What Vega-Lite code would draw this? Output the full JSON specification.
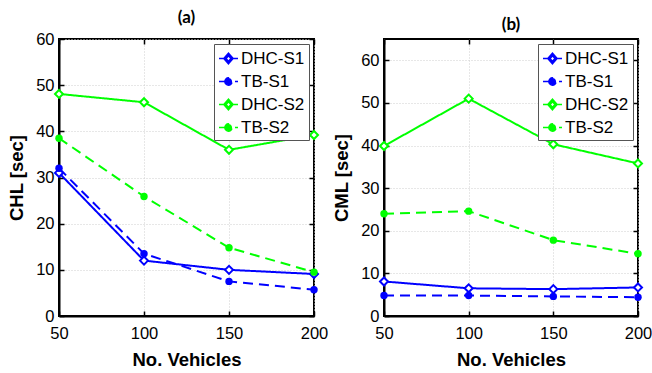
{
  "$schema": "https://vega.github.io/schema/vega-lite/v6.json",
  "padding": {"left": 6, "top": 8, "right": 0, "bottom": 0},
  "background": "white",
  "datasets": {
    "a": [
      {"n": 50, "series": "DHC-S1", "v": 31},
      {"n": 100, "series": "DHC-S1", "v": 12},
      {"n": 150, "series": "DHC-S1", "v": 10},
      {"n": 200, "series": "DHC-S1", "v": 9.1},
      {"n": 50, "series": "TB-S1", "v": 32},
      {"n": 100, "series": "TB-S1", "v": 13.5},
      {"n": 150, "series": "TB-S1", "v": 7.5},
      {"n": 200, "series": "TB-S1", "v": 5.7},
      {"n": 50, "series": "DHC-S2", "v": 48.1},
      {"n": 100, "series": "DHC-S2", "v": 46.3},
      {"n": 150, "series": "DHC-S2", "v": 36},
      {"n": 200, "series": "DHC-S2", "v": 39.2},
      {"n": 50, "series": "TB-S2", "v": 38.5},
      {"n": 100, "series": "TB-S2", "v": 25.9},
      {"n": 150, "series": "TB-S2", "v": 14.8},
      {"n": 200, "series": "TB-S2", "v": 9.5}
    ],
    "b": [
      {"n": 50, "series": "DHC-S1", "v": 8.1},
      {"n": 100, "series": "DHC-S1", "v": 6.5},
      {"n": 150, "series": "DHC-S1", "v": 6.3},
      {"n": 200, "series": "DHC-S1", "v": 6.7},
      {"n": 50, "series": "TB-S1", "v": 4.8},
      {"n": 100, "series": "TB-S1", "v": 4.8},
      {"n": 150, "series": "TB-S1", "v": 4.6},
      {"n": 200, "series": "TB-S1", "v": 4.4},
      {"n": 50, "series": "DHC-S2", "v": 39.9},
      {"n": 100, "series": "DHC-S2", "v": 51},
      {"n": 150, "series": "DHC-S2", "v": 40.3},
      {"n": 200, "series": "DHC-S2", "v": 35.8},
      {"n": 50, "series": "TB-S2", "v": 24},
      {"n": 100, "series": "TB-S2", "v": 24.6},
      {"n": 150, "series": "TB-S2", "v": 17.8},
      {"n": 200, "series": "TB-S2", "v": 14.6}
    ]
  },
  "config": {
    "view": {"stroke": "black", "strokeWidth": 2},
    "font": "Liberation Sans",
    "axis": {
      "labelFont": "Liberation Sans",
      "labelFontSize": 16.5,
      "labelColor": "black",
      "labelFlush": false,
      "labelOverlap": false,
      "titleFont": "Liberation Sans",
      "titleFontSize": 18.5,
      "titleFontWeight": "bold",
      "titleColor": "black",
      "domainColor": "black",
      "domainWidth": 2,
      "tickColor": "black",
      "tickWidth": 1.5,
      "tickSize": -5,
      "gridColor": "#cfcfcf",
      "gridDash": [1, 2],
      "gridWidth": 1
    },
    "axisX": {"labelPadding": 14, "titlePadding": 9},
    "axisY": {"labelPadding": 10, "titlePadding": 9},
    "legend": {
      "orient": "top-right",
      "offset": 5,
      "strokeColor": "#555555",
      "fillColor": "white",
      "padding": 4,
      "labelFont": "Liberation Sans",
      "labelFontSize": 17,
      "labelColor": "black",
      "symbolSize": 361,
      "symbolStrokeWidth": 1.6,
      "rowPadding": 4,
      "labelOffset": 2
    },
    "title": {"font": "Lato", "fontSize": 17, "fontWeight": "bold", "color": "black", "offset": 4}
  },
  "hconcat": [
    {
      "title": "(a)",
      "width": 255,
      "height": 277,
      "data": {"name": "a"},
      "layer": [
        {
          "mark": {"type": "line", "strokeWidth": 2},
          "encoding": {
            "x": {"field": "n", "type": "quantitative", "scale": {"domain": [50, 200], "nice": false, "zero": false, "padding": 0}, "axis": {"values": [50, 100, 150, 200], "title": "No. Vehicles"}},
            "y": {"field": "v", "type": "quantitative", "scale": {"domain": [0, 60], "nice": false, "padding": 0}, "axis": {"values": [0, 10, 20, 30, 40, 50, 60], "title": "CHL [sec]"}},
            "color": {"field": "series", "type": "nominal", "scale": {"domain": ["DHC-S1", "TB-S1", "DHC-S2", "TB-S2"], "range": ["#0000ff", "#0000ff", "#00ff00", "#00ff00"]},
              "legend": {"title": null, "encode": {"symbols": {"update": {
                "shape": {"signal": "indexof(datum.value, 'DHC') == 0 ? 'M-1,0L-0.48,0M0.48,0L1,0M0,-0.55L0.48,0L0,0.55L-0.48,0ZM0,-0.3L-0.26,0L0,0.3L0.26,0Z' : 'M-1,0L1,0M-0.38,0A0.38,0.38 0 1,0 0.38,0A0.38,0.38 0 1,0 -0.38,0Z'"},
                "fill": {"signal": "datum.value == 'TB-S1' ? '#0000ff' : datum.value == 'TB-S2' ? '#00ff00' : '#ffffff'"},
                "fillOpacity": {"value": 1},
                "size": {"value": 361},
                "strokeWidth": {"value": 1.6},
                "strokeDash": {"value": []}
              }}}}},
            "strokeDash": {"field": "series", "type": "nominal", "scale": {"domain": ["DHC-S1", "TB-S1", "DHC-S2", "TB-S2"], "range": [[1, 0], [10, 6], [1, 0], [10, 6]]}, "legend": null}
          }
        },
        {
          "transform": [{"filter": "indexof(datum.series, 'DHC') == 0"}],
          "mark": {"type": "point", "shape": "diamond", "filled": false, "fill": "white", "strokeWidth": 2, "opacity": 1, "size": 64},
          "encoding": {
            "x": {"field": "n", "type": "quantitative", "axis": {"orient": "top", "values": [50, 100, 150, 200], "labels": false, "title": null, "grid": false, "domain": false}},
            "y": {"field": "v", "type": "quantitative", "axis": {"orient": "right", "values": [0, 10, 20, 30, 40, 50, 60], "labels": false, "title": null, "grid": false, "domain": false}},
            "color": {"field": "series", "type": "nominal",
              "legend": {"title": null, "encode": {"symbols": {"update": {
                "shape": {"signal": "indexof(datum.value, 'DHC') == 0 ? 'M-1,0L-0.48,0M0.48,0L1,0M0,-0.55L0.48,0L0,0.55L-0.48,0ZM0,-0.3L-0.26,0L0,0.3L0.26,0Z' : 'M-1,0L1,0M-0.38,0A0.38,0.38 0 1,0 0.38,0A0.38,0.38 0 1,0 -0.38,0Z'"},
                "fill": {"signal": "datum.value == 'TB-S1' ? '#0000ff' : datum.value == 'TB-S2' ? '#00ff00' : '#ffffff'"},
                "fillOpacity": {"value": 1},
                "size": {"value": 361},
                "strokeWidth": {"value": 1.6},
                "strokeDash": {"value": []}
              }}}}}
          }
        },
        {
          "transform": [{"filter": "indexof(datum.series, 'TB') == 0"}],
          "mark": {"type": "point", "shape": "circle", "filled": true, "opacity": 1, "size": 55},
          "encoding": {
            "x": {"field": "n", "type": "quantitative", "axis": null},
            "y": {"field": "v", "type": "quantitative", "axis": null},
            "color": {"field": "series", "type": "nominal",
              "legend": {"title": null, "encode": {"symbols": {"update": {
                "shape": {"signal": "indexof(datum.value, 'DHC') == 0 ? 'M-1,0L-0.48,0M0.48,0L1,0M0,-0.55L0.48,0L0,0.55L-0.48,0ZM0,-0.3L-0.26,0L0,0.3L0.26,0Z' : 'M-1,0L1,0M-0.38,0A0.38,0.38 0 1,0 0.38,0A0.38,0.38 0 1,0 -0.38,0Z'"},
                "fill": {"signal": "datum.value == 'TB-S1' ? '#0000ff' : datum.value == 'TB-S2' ? '#00ff00' : '#ffffff'"},
                "fillOpacity": {"value": 1},
                "size": {"value": 361},
                "strokeWidth": {"value": 1.6},
                "strokeDash": {"value": []}
              }}}}}
          }
        }
      ],
      "resolve": {"axis": {"x": "independent", "y": "independent"}}
    },
    {
      "title": "(b)",
      "width": 254,
      "height": 277,
      "data": {"name": "b"},
      "layer": [
        {
          "mark": {"type": "line", "strokeWidth": 2},
          "encoding": {
            "x": {"field": "n", "type": "quantitative", "scale": {"domain": [50, 200], "nice": false, "zero": false, "padding": 0}, "axis": {"values": [50, 100, 150, 200], "title": "No. Vehicles"}},
            "y": {"field": "v", "type": "quantitative", "scale": {"domain": [0, 65], "nice": false, "padding": 0}, "axis": {"values": [0, 10, 20, 30, 40, 50, 60], "title": "CML [sec]"}},
            "color": {"field": "series", "type": "nominal", "scale": {"domain": ["DHC-S1", "TB-S1", "DHC-S2", "TB-S2"], "range": ["#0000ff", "#0000ff", "#00ff00", "#00ff00"]},
              "legend": {"title": null, "encode": {"symbols": {"update": {
                "shape": {"signal": "indexof(datum.value, 'DHC') == 0 ? 'M-1,0L-0.48,0M0.48,0L1,0M0,-0.55L0.48,0L0,0.55L-0.48,0ZM0,-0.3L-0.26,0L0,0.3L0.26,0Z' : 'M-1,0L1,0M-0.38,0A0.38,0.38 0 1,0 0.38,0A0.38,0.38 0 1,0 -0.38,0Z'"},
                "fill": {"signal": "datum.value == 'TB-S1' ? '#0000ff' : datum.value == 'TB-S2' ? '#00ff00' : '#ffffff'"},
                "fillOpacity": {"value": 1},
                "size": {"value": 361},
                "strokeWidth": {"value": 1.6},
                "strokeDash": {"value": []}
              }}}}},
            "strokeDash": {"field": "series", "type": "nominal", "scale": {"domain": ["DHC-S1", "TB-S1", "DHC-S2", "TB-S2"], "range": [[1, 0], [10, 6], [1, 0], [10, 6]]}, "legend": null}
          }
        },
        {
          "transform": [{"filter": "indexof(datum.series, 'DHC') == 0"}],
          "mark": {"type": "point", "shape": "diamond", "filled": false, "fill": "white", "strokeWidth": 2, "opacity": 1, "size": 64},
          "encoding": {
            "x": {"field": "n", "type": "quantitative", "axis": {"orient": "top", "values": [50, 100, 150, 200], "labels": false, "title": null, "grid": false, "domain": false}},
            "y": {"field": "v", "type": "quantitative", "axis": {"orient": "right", "values": [0, 10, 20, 30, 40, 50, 60], "labels": false, "title": null, "grid": false, "domain": false}},
            "color": {"field": "series", "type": "nominal",
              "legend": {"title": null, "encode": {"symbols": {"update": {
                "shape": {"signal": "indexof(datum.value, 'DHC') == 0 ? 'M-1,0L-0.48,0M0.48,0L1,0M0,-0.55L0.48,0L0,0.55L-0.48,0ZM0,-0.3L-0.26,0L0,0.3L0.26,0Z' : 'M-1,0L1,0M-0.38,0A0.38,0.38 0 1,0 0.38,0A0.38,0.38 0 1,0 -0.38,0Z'"},
                "fill": {"signal": "datum.value == 'TB-S1' ? '#0000ff' : datum.value == 'TB-S2' ? '#00ff00' : '#ffffff'"},
                "fillOpacity": {"value": 1},
                "size": {"value": 361},
                "strokeWidth": {"value": 1.6},
                "strokeDash": {"value": []}
              }}}}}
          }
        },
        {
          "transform": [{"filter": "indexof(datum.series, 'TB') == 0"}],
          "mark": {"type": "point", "shape": "circle", "filled": true, "opacity": 1, "size": 55},
          "encoding": {
            "x": {"field": "n", "type": "quantitative", "axis": null},
            "y": {"field": "v", "type": "quantitative", "axis": null},
            "color": {"field": "series", "type": "nominal",
              "legend": {"title": null, "encode": {"symbols": {"update": {
                "shape": {"signal": "indexof(datum.value, 'DHC') == 0 ? 'M-1,0L-0.48,0M0.48,0L1,0M0,-0.55L0.48,0L0,0.55L-0.48,0ZM0,-0.3L-0.26,0L0,0.3L0.26,0Z' : 'M-1,0L1,0M-0.38,0A0.38,0.38 0 1,0 0.38,0A0.38,0.38 0 1,0 -0.38,0Z'"},
                "fill": {"signal": "datum.value == 'TB-S1' ? '#0000ff' : datum.value == 'TB-S2' ? '#00ff00' : '#ffffff'"},
                "fillOpacity": {"value": 1},
                "size": {"value": 361},
                "strokeWidth": {"value": 1.6},
                "strokeDash": {"value": []}
              }}}}}
          }
        }
      ],
      "resolve": {"axis": {"x": "independent", "y": "independent"}}
    }
  ],
  "resolve": {"scale": {"color": "independent", "strokeDash": "independent"}, "legend": {"color": "independent"}},
  "bounds": "flush",
  "spacing": 70
}
